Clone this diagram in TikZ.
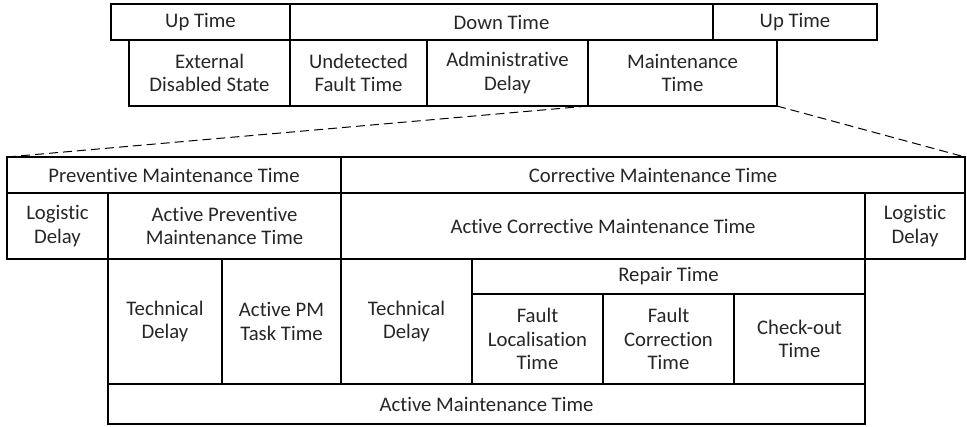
\documentclass[tikz,border=0pt]{standalone}
\usepackage{fontspec}
\setmainfont{Carlito}[Ligatures=NoCommon]
\usepackage{tikz}
\usetikzlibrary{positioning}

\begin{document}
\begin{tikzpicture}[
    x=1bp, y=-1bp,
    font=\fontsize{20.8}{23.5}\selectfont,
    cell/.style={
      draw,
      line width=1.1bp,
      align=center,
      inner sep=0pt,
      outer sep=0pt,
      text=black!85
    },
    zoomline/.style={line width=1bp, dash pattern=on 9bp off 5bp}
]
\useasboundingbox (0,0) rectangle (967,426);

% upper bar
\node[cell, minimum width=179bp, minimum height=36bp] (up1) at (200.5,22) {Up Time};
\node[cell, minimum width=423bp, minimum height=36bp] (down) at (501.5,22) {Down Time};
\node[cell, minimum width=164bp, minimum height=36bp] (up2) at (795,22) {Up Time};
\node[cell, minimum width=161bp, minimum height=66bp] (ext) at (209.5,73) {External\\Disabled State};
\node[cell, minimum width=137bp, minimum height=66bp] (undet) at (358.5,73) {Undetected\\Fault Time};
\node[cell, minimum width=161bp, minimum height=66bp] (admin) at (507.5,73) {Administrative\\Delay};
\node[cell, minimum width=189bp, minimum height=66bp] (maint) at (682.5,73) {Maintenance\\Time};

% lower table
\node[cell, minimum width=334bp, minimum height=36bp] (pmt) at (174,175) {Preventive Maintenance Time};
\node[cell, minimum width=624bp, minimum height=36bp] (cmt) at (653,175) {Corrective Maintenance Time};
\node[cell, minimum width=101bp, minimum height=66bp] (log1) at (57.5,226) {Logistic\\Delay};
\node[cell, minimum width=233bp, minimum height=66bp] (apmt) at (224.5,226) {Active Preventive\\Maintenance Time};
\node[cell, minimum width=524bp, minimum height=66bp] (acmt) at (603,226) {Active Corrective Maintenance Time};
\node[cell, minimum width=100bp, minimum height=66bp] (log2) at (915,226) {Logistic\\Delay};

\node[cell, minimum width=114bp, minimum height=125bp] (tech1) at (165,321.5) {Technical\\Delay};
\node[cell, minimum width=119bp, minimum height=125bp] (pmtask) at (281.5,321.5) {Active PM\\Task Time};
\node[cell, minimum width=131bp, minimum height=125bp] (tech2) at (406.5,321.5) {Technical\\Delay};
\node[cell, minimum width=393bp, minimum height=35bp] (repair) at (668.5,276.5) {Repair Time};
\node[cell, minimum width=131bp, minimum height=90bp] (floc) at (537.5,339) {Fault\\Localisation\\Time};
\node[cell, minimum width=131bp, minimum height=90bp] (fcor) at (668.5,339) {Fault\\Correction\\Time};
\node[cell, minimum width=131bp, minimum height=90bp] (check) at (799.5,339) {Check-out\\Time};
\node[cell, minimum width=757bp, minimum height=40bp] (amt) at (486.5,404) {Active Maintenance Time};

% zoom lines
\draw[zoomline] (maint.south west) -- (pmt.north west);
\draw[zoomline] (maint.south east) -- (cmt.north east);
\end{tikzpicture}
\end{document}
